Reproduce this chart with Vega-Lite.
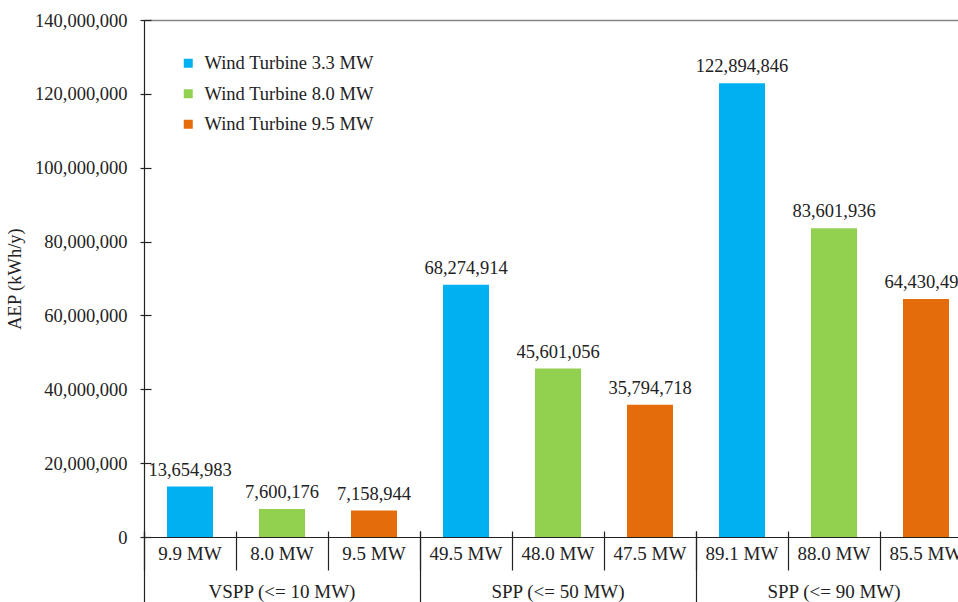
{
  "$schema": "https://vega.github.io/schema/vega-lite/v6.json",
  "usermeta": {"embedOptions": {"actions": false}},
  "autosize": {"type": "none"},
  "padding": {"left": 144, "top": 20, "right": 0, "bottom": 65},
  "width": 814,
  "height": 517,
  "background": "white",
  "config": {
    "view": {"stroke": null},
    "font": "Liberation Serif",
    "axis": {"labelFont": "Liberation Serif", "titleFont": "Liberation Serif", "labelColor": "#222", "titleColor": "#222", "domainColor": "#222", "tickColor": "#222", "grid": false},
    "legend": {"labelFont": "Liberation Serif"}
  },
  "data": {
    "values": [
      {"cap": "9.9 MW", "group": "VSPP (<= 10 MW)", "turbine": "Wind Turbine 3.3 MW", "aep": 13654983},
      {"cap": "8.0 MW", "group": "VSPP (<= 10 MW)", "turbine": "Wind Turbine 8.0 MW", "aep": 7600176},
      {"cap": "9.5 MW", "group": "VSPP (<= 10 MW)", "turbine": "Wind Turbine 9.5 MW", "aep": 7158944},
      {"cap": "49.5 MW", "group": "SPP (<= 50 MW)", "turbine": "Wind Turbine 3.3 MW", "aep": 68274914},
      {"cap": "48.0 MW", "group": "SPP (<= 50 MW)", "turbine": "Wind Turbine 8.0 MW", "aep": 45601056},
      {"cap": "47.5 MW", "group": "SPP (<= 50 MW)", "turbine": "Wind Turbine 9.5 MW", "aep": 35794718},
      {"cap": "89.1 MW", "group": "SPP (<= 90 MW)", "turbine": "Wind Turbine 3.3 MW", "aep": 122894846},
      {"cap": "88.0 MW", "group": "SPP (<= 90 MW)", "turbine": "Wind Turbine 8.0 MW", "aep": 83601936},
      {"cap": "85.5 MW", "group": "SPP (<= 90 MW)", "turbine": "Wind Turbine 9.5 MW", "aep": 64430494}
    ]
  },
  "resolve": {"axis": {"x": "independent", "y": "independent"}},
  "layer": [
    {
      "mark": {"type": "bar", "width": {"band": 0.5}},
      "encoding": {
        "x": {
          "field": "cap", "type": "nominal", "sort": null,
          "scale": {"range": [0, 828], "paddingInner": 0, "paddingOuter": 0},
          "axis": {
            "orient": "bottom", "title": null, "labelAngle": 0, "labelFontSize": 19, "labelLineHeight": 38,
            "ticks": false, "tickSize": 1, "labelPadding": 7, "domainWidth": 1.2,
            "labelExpr": "datum.value == '8.0 MW' ? ['8.0 MW', 'VSPP (<= 10 MW)'] : datum.value == '48.0 MW' ? ['48.0 MW', 'SPP (<= 50 MW)'] : datum.value == '88.0 MW' ? ['88.0 MW', 'SPP (<= 90 MW)'] : datum.label",
            "labelBaseline": "top"
          }
        },
        "y": {
          "field": "aep", "type": "quantitative",
          "scale": {"domain": [0, 140000000], "nice": false},
          "axis": {
            "orient": "left", "title": "AEP (kWh/y)", "titleFontSize": 18.5, "titleFontWeight": "normal", "titlePadding": 10,
            "values": [0, 20000000, 40000000, 60000000, 80000000, 100000000, 120000000, 140000000],
            "labelExpr": "format(datum.value, ',')", "labelFontSize": 18.5, "tickSize": 4, "tickWidth": 1.2, "labelPadding": 13, "domainWidth": 1.2
          }
        },
        "color": {
          "field": "turbine", "type": "nominal",
          "scale": {"domain": ["Wind Turbine 3.3 MW", "Wind Turbine 8.0 MW", "Wind Turbine 9.5 MW"], "range": ["#00B0F0", "#92D050", "#E46C0A"]},
          "legend": {
            "title": null, "orient": "none", "legendX": 35, "legendY": 34,
            "symbolType": "square", "symbolSize": 81, "symbolStrokeWidth": 0,
            "labelFontSize": 18.5, "labelColor": "#222", "rowPadding": 11.5, "labelOffset": 7, "labelLimit": 0
          }
        }
      }
    },
    {
      "mark": {"type": "text", "baseline": "bottom", "dy": -7, "fontSize": 18.5, "color": "#222", "font": "Liberation Serif"},
      "encoding": {
        "x": {
          "field": "cap", "type": "nominal", "sort": null,
          "axis": {"orient": "top", "title": null, "labels": false, "ticks": false, "domainColor": "#868686", "domainWidth": 1.5}
        },
        "y": {
          "field": "aep", "type": "quantitative",
          "axis": {
            "orient": "left", "title": null, "labels": false, "domain": false,
            "values": [0, 20000000, 40000000, 60000000, 80000000, 100000000, 120000000, 140000000],
            "tickSize": -7, "tickWidth": 1.2
          }
        },
        "text": {"field": "aep", "type": "quantitative", "format": ","}
      }
    },
    {
      "mark": {"type": "text", "opacity": 0},
      "encoding": {
        "x": {
          "field": "cap", "type": "nominal", "sort": null,
          "axis": {"orient": "bottom", "offset": -6, "title": null, "labels": false, "domain": false, "bandPosition": 0, "tickSize": 39, "tickWidth": 1.2}
        },
        "text": {"value": ""}
      }
    },
    {
      "mark": {"type": "text", "opacity": 0},
      "encoding": {
        "x": {
          "field": "cap", "type": "nominal", "sort": null,
          "axis": {"orient": "bottom", "offset": -6, "title": null, "labels": false, "domain": false, "bandPosition": 0, "tickSize": 72, "tickWidth": 1.2, "values": ["9.9 MW", "49.5 MW", "89.1 MW"]}
        },
        "text": {"value": ""}
      }
    }
  ]
}
